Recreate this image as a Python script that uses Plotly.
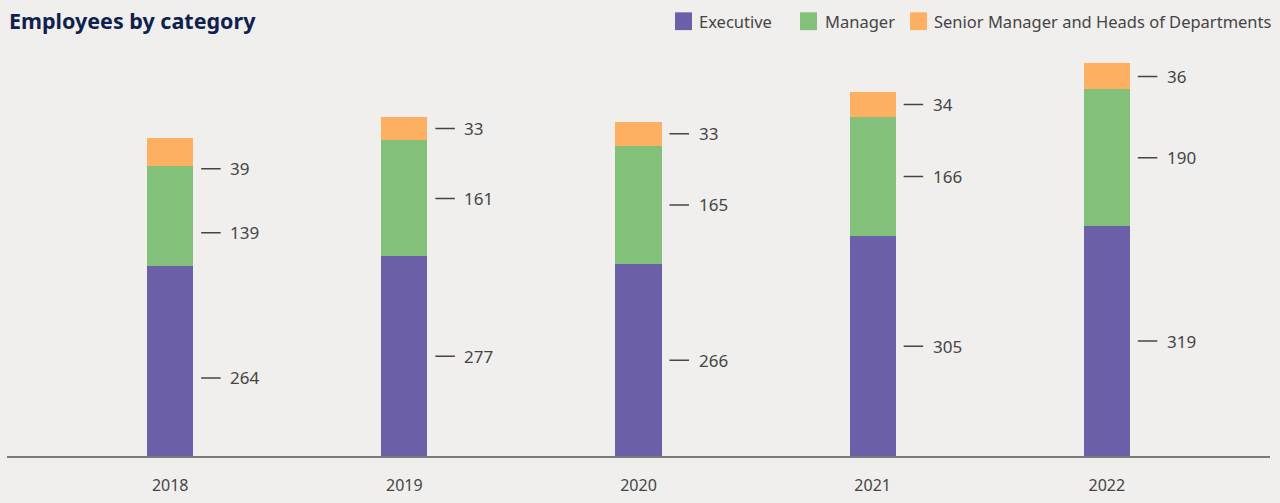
import plotly.graph_objects as go

years = ["2018", "2019", "2020", "2021", "2022"]
executive = [264, 277, 266, 305, 319]
manager = [139, 161, 165, 166, 190]
senior = [39, 33, 33, 34, 36]

series_names = ["Executive", "Manager", "Senior Manager and Heads of Departments"]
series_values = [executive, manager, senior]
series_colors = ["#6c60a8", "#83c07a", "#fdaf62"]

BG = "#f0efed"
TEXT = "#454545"
FONT = "Noto Sans"

W, H = 1280, 503
M_L, M_R, M_T, M_B = 7, 10, 40, 42
PLOT_W = W - M_L - M_R
PLOT_H = H - M_T - M_B

x_pos = list(range(len(years)))
BAR_W = 0.197

fig = go.Figure()
for name, vals, col in zip(series_names, series_values, series_colors):
    fig.add_trace(go.Bar(
        x=x_pos, y=vals, name=name, width=BAR_W,
        marker=dict(color=col, line=dict(width=0)),
        showlegend=False, hoverinfo="skip",
    ))

# value callouts: short dash + number beside each segment
px_per_unit = PLOT_W / 5.394
dash_x0, dash_x1, text_x = 31 / px_per_unit, 52 / px_per_unit, 58 / px_per_unit
callout_yshift = {0: -17}  # the first column's callouts sit a little lower
for i in x_pos:
    base = 0
    shift = callout_yshift.get(i, 0)
    for vals in series_values:
        v = vals[i]
        mid = base + v / 2
        fig.add_annotation(x=i + dash_x0, y=mid, xref="x", yref="y",
                           ax=i + dash_x1, ay=mid, axref="x", ayref="y",
                           text="", showarrow=True, arrowhead=0,
                           arrowwidth=1.5, arrowcolor=TEXT,
                           yshift=shift)
        fig.add_annotation(x=i + text_x, y=mid, xref="x", yref="y",
                           text=str(v), showarrow=False, xanchor="left",
                           yanchor="middle", yshift=shift,
                           font=dict(family=FONT, size=17, color=TEXT))
        base += v


def py(y_px):
    """Convert a pixel row (from the top of the page) to paper y."""
    return (H - M_B - y_px) / PLOT_H


def px(x_px):
    return (x_px - M_L) / PLOT_W


# legend drawn as swatches + labels along the top right
legend_items = [(675, 697), (800, 823), (910, 932)]
for (bx, tx), name, col in zip(legend_items, series_names, series_colors):
    fig.add_shape(type="rect", xref="paper", yref="paper",
                  x0=px(bx), x1=px(bx + 17), y0=py(30), y1=py(12),
                  fillcolor=col, line=dict(width=0))
    fig.add_annotation(x=px(tx), y=py(21), xref="paper", yref="paper",
                       text=name, showarrow=False, xanchor="left",
                       yanchor="middle",
                       font=dict(family=FONT, size=16.5, color=TEXT))

fig.add_annotation(x=0, y=py(20), xref="paper", yref="paper",
                   text="<b>Employees by category</b>", showarrow=False,
                   xanchor="left", yanchor="middle",
                   font=dict(family=FONT, size=21.5, color="#0f1f4e"))

fig.update_layout(
    width=W, height=H,
    margin=dict(l=M_L, r=M_R, t=M_T, b=M_B),
    paper_bgcolor=BG, plot_bgcolor=BG,
    barmode="stack",
    xaxis=dict(range=[-0.697, 4.697], tickvals=x_pos, ticktext=years,
               showgrid=False, zeroline=False, showline=True,
               linecolor="#7a7a7a", linewidth=2, ticks="",
               ticklabelstandoff=14,
               tickfont=dict(family=FONT, size=16, color=TEXT)),
    yaxis=dict(range=[0, PLOT_H / 0.729], showgrid=False, zeroline=False,
               showticklabels=False, showline=False),
)

fig.write_html("out.html")
